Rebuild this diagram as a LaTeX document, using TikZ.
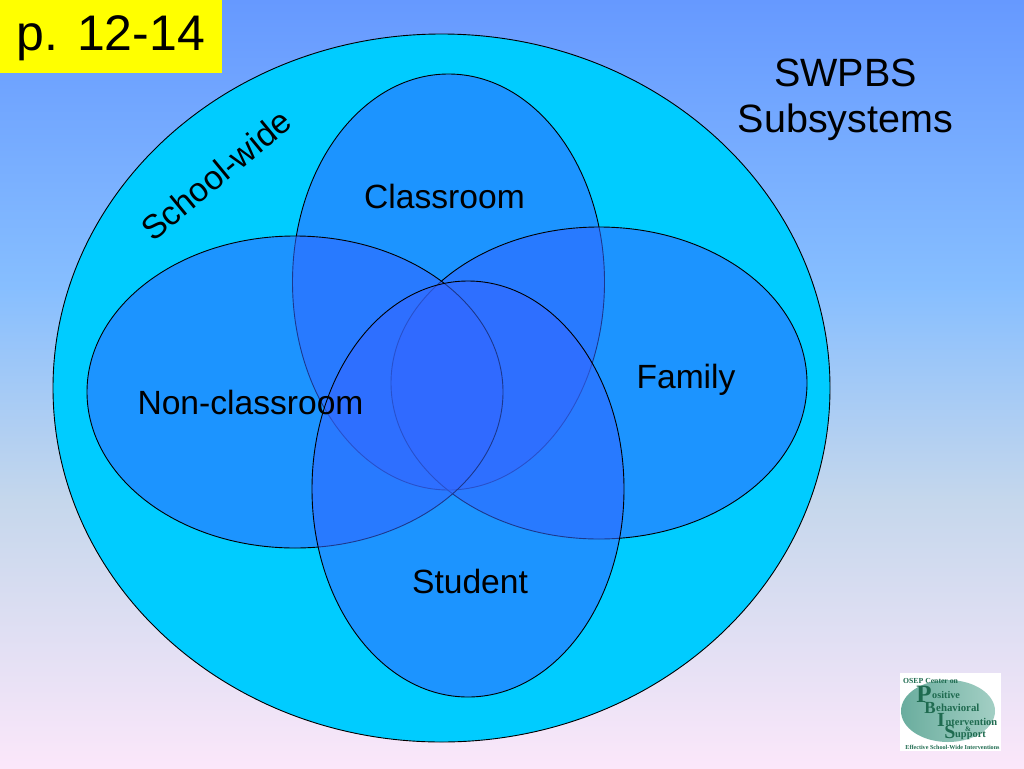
\documentclass[tikz,border=0pt]{standalone}
\usepackage{fontspec}
\setmainfont{Liberation Sans}
\newfontfamily\logofont{Liberation Serif}
\usepackage{xcolor}
\usetikzlibrary{positioning,shapes.geometric}
\definecolor{SkyTop}{HTML}{6699FF}
\definecolor{SkyMid}{HTML}{86BEFF}
\definecolor{SkyLow}{HTML}{C5D7EC}
\definecolor{PinkBottom}{HTML}{FBE7FA}
\definecolor{PageYellow}{HTML}{FFFF00}
\definecolor{SchoolCyan}{HTML}{00CCFF}
\definecolor{PetalBlue}{HTML}{3366FF}
\definecolor{LogoTealDark}{HTML}{6AAD9E}
\definecolor{LogoTealLight}{HTML}{A3CFC4}
\definecolor{LogoGreen}{HTML}{1F6B50}
\newcommand{\px}[1]{\fontsize{#1}{#1}\selectfont}

\begin{document}
\begin{tikzpicture}[
  x=1pt, y=-1pt,
  wholeschool/.style={ellipse, draw=black, fill=SchoolCyan, line width=0.9pt, inner sep=0pt,
               minimum width=777pt, minimum height=708pt},
  petalwide/.style={ellipse, draw=black, fill=PetalBlue, fill opacity=0.55, line width=0.9pt, inner sep=0pt,
               minimum width=416pt, minimum height=312pt},
  petaltall/.style={petalwide, minimum width=312pt, minimum height=416pt},
  label/.style={font=\px{33.6}, text=black, inner sep=0pt},
  title/.style={font=\px{39.5}, text=black, inner sep=0pt, align=center},
  logotext/.style={font=\logofont\bfseries\px{#1}, text=LogoGreen, inner sep=0pt},
  logotext/.default=7.5
]
\useasboundingbox (0,0) rectangle (1024,768);
\shade[top color=SkyTop, bottom color=SkyMid] (0,0) rectangle (1024,285);
\shade[top color=SkyMid, bottom color=SkyLow] (0,285) rectangle (1024,500);
\shade[top color=SkyLow, bottom color=PinkBottom] (0,500) rectangle (1024,768);
\fill[PageYellow] (0,0) rectangle (222,73);
\node[font=\px{50}, inner sep=0pt] (page) at (111,38) {p. 12-14};
% venn
\node[wholeschool] (school) at (441.5,388) {};
\node[petaltall] (classroom) at (448.5,282) {};
\node[petalwide] (family) at (599,383) {};
\node[petalwide] (nonclass) at (295,392) {};
\node[petaltall] (student) at (468,489) {};
% labels
\node[label] (classtext) at (444.5,196) {Classroom};
\node[label] (familytext) at (686,380) {Family};
\node[label] (nonclasstext) at (250.5,402.5) {Non-classroom};
\node[label] (studenttext) at (470,581) {Student};
\node[label, rotate=39.5] (schooltext) at (216,175) {School-wide};
\node[title] (swpbs) at (845.5,100) {SWPBS\\[6pt]Subsystems};
% logo
\fill[white] (900,673) rectangle (1001,751);
\node[ellipse, left color=LogoTealDark, right color=LogoTealLight, minimum width=94pt, minimum height=62pt, inner sep=0pt] (logobg) at (948,711) {};
\node[logotext=7.7, anchor=west] (osep) at (903,681) {OSEP Center on};
\node[logotext=25] (bigp) at (924,694) {P};
\node[logotext=17] (bigb) at (930,708) {B};
\node[logotext=20] (bigi) at (941,720) {I};
\node[logotext=20] (bigs) at (950,732) {S};
\node[logotext=10.2, anchor=west] (ositive) at (932,695) {ositive};
\node[logotext=10.8, anchor=west] (ehav) at (936,708) {ehavioral};
\node[logotext=10.4, anchor=west] (nterv) at (945.5,722) {ntervention};
\node[logotext=7] (amp) at (968,729) {\&};
\node[logotext=10.4, anchor=west] (upport) at (955,736) {upport};
\node[logotext=6.1] (effective) at (952.5,747) {Effective School-Wide Interventions};
\end{tikzpicture}
\end{document}
